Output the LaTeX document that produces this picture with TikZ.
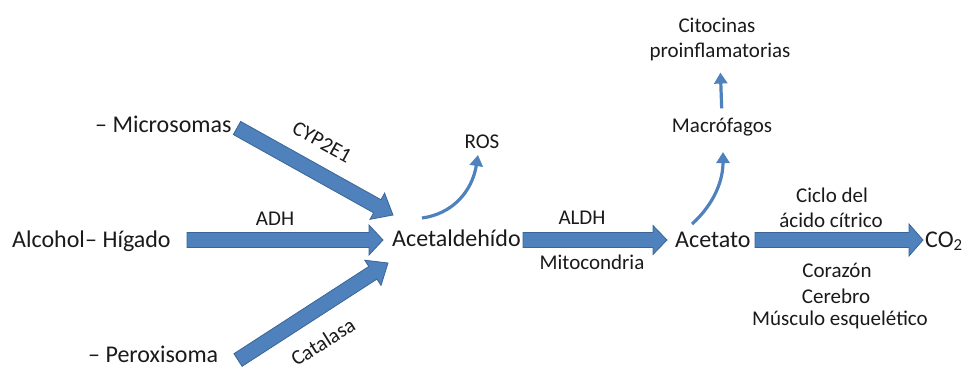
\documentclass[tikz,border=0pt]{standalone}
\usepackage{fontspec}
\setmainfont{Carlito}
\usetikzlibrary{calc,arrows.meta}
\definecolor{fillblue}{HTML}{4F81BD}
\definecolor{edgeblue}{HTML}{3A6596}
\definecolor{txt}{HTML}{1A1A1A}
\tikzset{
  big/.style={font=\fontsize{24}{28}\selectfont, text=txt, inner sep=0pt},
  small/.style={font=\fontsize{21}{25}\selectfont, text=txt, inner sep=0pt},
  fatstyle/.style={fill=fillblue, draw=edgeblue, line width=0.8pt, line join=miter},
  thinarrow/.style={draw=fillblue, line width=3.2pt, -{Triangle[length=11pt 0,width=13pt 0]}}
}
% tail, tip, head length, head half width
\newcommand\fatarrow[4]{%
  \path ($(#2)!#3!(#1)$) coordinate (hb);
  \filldraw[fatstyle] ($(#1)!7.5pt!90:(#2)$) -- ($(hb)!7.5pt!90:(#2)$) -- ($(hb)!#4!90:(#2)$) -- (#2)
    -- ($(hb)!#4!-90:(#2)$) -- ($(hb)!7.5pt!-90:(#2)$) -- ($(#1)!7.5pt!-90:(#2)$) -- cycle;}
\begin{document}
\begin{tikzpicture}[x=1pt,y=-1pt]
\useasboundingbox (0,0) rectangle (969,368);
% main labels
\node[big, anchor=base west] (alcohol) at (12,247) {Alcohol};
\node[big, anchor=base west] (higado) at (85,247) {– Hígado};
\node[big, anchor=base west] (micro) at (95,132) {– Microsomas};
\node[big, anchor=base west] (perox) at (88,362) {– Peroxisoma};
\node[big, anchor=base west] (acetal) at (392,246) {Acetaldehído};
\node[big, anchor=base west] (acetato) at (675,247) {Acetato};
\node[big, anchor=base west] (co2) at (925,247) {CO\textsubscript{2}};
% small labels
\node[small, anchor=base] (adh) at (275,225) {ADH};
\node[small, anchor=base] (aldh) at (582,224) {ALDH};
\node[small, anchor=base] (mito) at (592,269) {Mitocondria};
\node[small, anchor=base] (ros) at (482,148) {ROS};
\node[small, anchor=base] (macro) at (722,132) {Macrófagos};
\node[small, anchor=base] (cito1) at (717,32) {Citocinas};
\node[small, anchor=base] (cito2) at (720,57) {proinflamatorias};
\node[small, anchor=base] (ciclo1) at (832,202) {Ciclo del};
\node[small, anchor=base] (ciclo2) at (831,227) {ácido cítrico};
\node[small, anchor=base] (cora) at (837,277) {Corazón};
\node[small, anchor=base] (cere) at (836,303) {Cerebro};
\node[small, anchor=base] (musc) at (840,325) {Músculo esquelético};
\node[small, rotate=-29] (cyp) at (322,142) {CYP2E1};
\node[small, rotate=32] (cat) at (323,342) {Catalasa};
% arrow end points
\coordinate (h0) at (187,240); \coordinate (h1) at (383,240);
\coordinate (m0) at (237,128); \coordinate (m1) at (393,215);
\coordinate (p0) at (238,360); \coordinate (p1) at (388,263);
\coordinate (a0) at (523,240); \coordinate (a1) at (667,240);
\coordinate (c0) at (755,240); \coordinate (c1) at (923,240);
\coordinate (r0) at (422,218); \coordinate (r1) at (478,155);
\coordinate (k0) at (692,224); \coordinate (k1) at (723,152);
% fat arrows
\fatarrow{h0}{h1}{14pt}{15pt}
\fatarrow{m0}{m1}{18pt}{15pt}
\fatarrow{p0}{p1}{18pt}{15pt}
\fatarrow{a0}{a1}{14pt}{14.5pt}
\fatarrow{c0}{c1}{14pt}{16pt}
% thin arrows
\draw[thinarrow] (r0) .. controls (452,214) and (472,192) .. (r1);
\draw[thinarrow] (k0) .. controls (710,208) and (723,185) .. (k1);
\draw[thinarrow, shorten <=9pt, shorten >=12pt] (macro.north) -- (cito2.south);
\end{tikzpicture}
\end{document}
